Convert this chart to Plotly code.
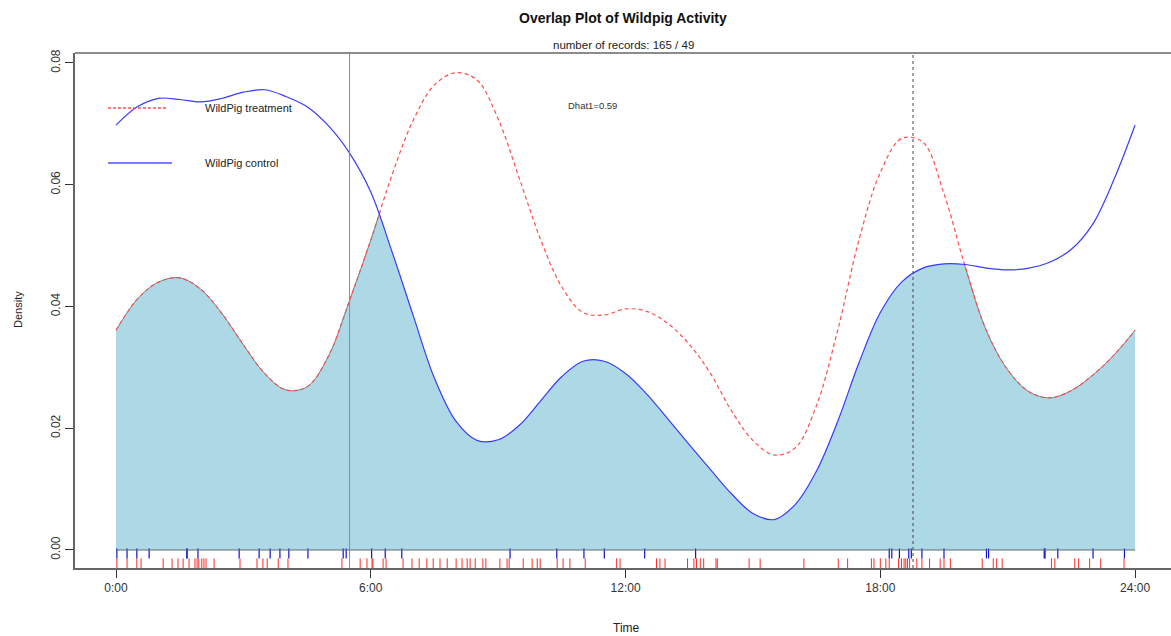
import plotly.graph_objects as go

# ---- data ----
hours = [i * 0.5 for i in range(49)]
treatment_density = [0.0361, 0.0412, 0.0440, 0.0447, 0.0428, 0.0388, 0.0337, 0.0290, 0.0263, 0.0268,
                     0.0318, 0.0410, 0.0509, 0.0616, 0.0706, 0.0764, 0.0784, 0.0772, 0.0708, 0.0610,
                     0.0510, 0.0432, 0.0390, 0.0386, 0.0396, 0.0392, 0.0372, 0.0338, 0.0290, 0.0228,
                     0.0180, 0.0156, 0.0168, 0.0238, 0.0362, 0.0510, 0.0620, 0.0676, 0.0670, 0.0585,
                     0.0465, 0.0360, 0.0296, 0.0260, 0.0250, 0.0262, 0.0287, 0.0320, 0.0361]
control_density = [0.0698, 0.0728, 0.0742, 0.0740, 0.0736, 0.0742, 0.0752, 0.0756, 0.0745, 0.0728,
                   0.0697, 0.0652, 0.0588, 0.0490, 0.0385, 0.0282, 0.0212, 0.0180, 0.0181, 0.0205,
                   0.0245, 0.0285, 0.0310, 0.0310, 0.0290, 0.0256, 0.0215, 0.0173, 0.0132, 0.0092,
                   0.0060, 0.0050, 0.0075, 0.0130, 0.0212, 0.0308, 0.0390, 0.0440, 0.0463, 0.0470,
                   0.0469, 0.0463, 0.0460, 0.0463, 0.0473, 0.0494, 0.0535, 0.0608, 0.0698]

control_times = [0.02, 0.26, 0.49, 0.78, 1.67, 1.67, 1.93, 2.90, 3.37, 3.63, 3.86, 4.07, 4.52, 5.35, 5.42,
                 6.02, 6.34, 6.73, 9.28, 10.38, 11.02, 11.50, 12.45, 13.65, 18.21, 18.27, 18.45, 18.67,
                 18.73, 18.98, 19.50, 20.50, 20.55, 21.86, 21.88, 22.18, 23.01, 23.75]
treatment_times = [0.02, 0.26, 0.49, 0.59, 1.11, 1.32, 1.46, 1.58, 1.72, 1.86, 1.91, 1.95, 2.02, 2.07, 2.12,
                   2.31, 2.92, 3.32, 3.46, 3.56, 3.82, 4.05, 5.32, 5.75, 5.91, 6.03, 6.05, 6.29, 6.36, 6.76,
                   6.97, 7.14, 7.32, 7.47, 7.63, 7.80, 8.01, 8.15, 8.27, 8.34, 8.46, 8.64, 8.71, 9.04, 9.21,
                   9.26, 9.59, 9.80, 9.92, 9.99, 10.39, 10.53, 10.69, 11.05, 11.79, 11.87, 12.73, 12.81,
                   12.93, 13.46, 13.61, 13.67, 13.76, 13.84, 14.13, 14.16, 14.91, 15.17, 16.20, 17.01,
                   17.23, 17.79, 17.85, 18.00, 18.13, 18.21, 18.43, 18.50, 18.56, 18.60, 18.64, 18.69,
                   18.86, 18.98, 19.16, 19.41, 19.50, 19.65, 20.40, 20.66, 20.74, 20.87, 22.03, 22.11,
                   22.58, 22.67, 22.93, 23.19, 23.74]

x_tick_vals = [0, 6, 12, 18, 24]
x_tick_text = ["0:00", "6:00", "12:00", "18:00", "24:00"]
y_tick_vals = [0.00, 0.02, 0.04, 0.06, 0.08]
y_tick_text = ["0.00", "0.02", "0.04", "0.06", "0.08"]
sunrise, sunset = 5.5, 18.77
n_treatment, n_control = 165, 49
dhat = 0.59

Y_MIN, Y_MAX = -0.00296, 0.08164
FONT = "Liberation Sans, Arial, sans-serif"
fig = go.Figure()

# overlap area: fill under treatment, then blank out everything above control
fig.add_trace(go.Scatter(x=hours, y=treatment_density, mode="lines",
                         line=dict(color="#6f8590", width=1, shape="spline"),
                         fill="tozeroy", fillcolor="#add8e6", hoverinfo="skip", showlegend=False))
fig.add_trace(go.Scatter(x=hours, y=control_density, mode="lines",
                         line=dict(color="rgba(0,0,0,0)", width=0, shape="spline"),
                         hoverinfo="skip", showlegend=False))
fig.add_trace(go.Scatter(x=hours, y=[Y_MAX] * len(hours), mode="lines",
                         line=dict(color="rgba(0,0,0,0)", width=0), fill="tonexty", fillcolor="white",
                         hoverinfo="skip", showlegend=False))

fig.add_trace(go.Scatter(x=hours, y=treatment_density, mode="lines",
                         line=dict(color="#ff4d4d", width=1.2, dash="4px,3px", shape="spline"), showlegend=False))
fig.add_trace(go.Scatter(x=hours, y=control_density, mode="lines",
                         line=dict(color="#3a3aff", width=1.2, shape="spline"), showlegend=False))

# rugs
fig.add_trace(go.Scatter(x=control_times, y=[-0.00058] * len(control_times), mode="markers",
                         marker=dict(symbol="line-ns", size=7, line=dict(color="#1010d0", width=1.2)),
                         showlegend=False))
fig.add_trace(go.Scatter(x=treatment_times, y=[-0.0023] * len(treatment_times), mode="markers",
                         marker=dict(symbol="line-ns", size=8, line=dict(color="#ff2a2a", width=1)),
                         showlegend=False))

shapes = [
    dict(type="line", xref="x", yref="paper", x0=sunrise, x1=sunrise, y0=0, y1=1, layer="above",
         line=dict(color="#8c8c8c", width=1)),
    dict(type="line", xref="x", yref="paper", x0=sunset, x1=sunset, y0=0, y1=1, layer="above",
         line=dict(color="#444444", width=1, dash="dot")),
    dict(type="line", xref="x", yref="y", x0=0, x1=24, y0=0, y1=0, layer="above",
         line=dict(color="#5f6f78", width=1.2)),
    dict(type="line", xref="paper", yref="paper", x0=0, x1=1, y0=1, y1=1,
         line=dict(color="#666666", width=1.5)),
    # legend samples
    dict(type="line", xref="paper", yref="paper", x0=0.0301, x1=0.0849, y0=0.8932, y1=0.8932,
         line=dict(color="#ff4d4d", width=1.3, dash="3px,2px")),
    dict(type="line", xref="paper", yref="paper", x0=0.0301, x1=0.0885, y0=0.7864, y1=0.7864,
         line=dict(color="#5050ff", width=1.5)),
]

annotations = [
    dict(text="<b>Overlap Plot of Wildpig Activity</b>", xref="paper", yref="paper", x=0.4999, y=1.068,
         showarrow=False, font=dict(size=14, color="#111", family=FONT), xanchor="center", yanchor="middle"),
    dict(text=f"number of records: {n_treatment} / {n_control}", xref="paper", yref="paper", x=0.5, y=1.0155,
         showarrow=False, font=dict(size=11.5, color="#222", family=FONT), xanchor="center", yanchor="middle"),
    dict(text="WildPig treatment", xref="paper", yref="paper", x=0.1168, y=0.8932, showarrow=False,
         font=dict(size=11, color="#222", family=FONT), xanchor="left", yanchor="middle"),
    dict(text="WildPig control", xref="paper", yref="paper", x=0.1168, y=0.7864, showarrow=False,
         font=dict(size=11, color="#222", family=FONT), xanchor="left", yanchor="middle"),
    dict(text=f"Dhat1={dhat}", xref="paper", yref="paper", x=0.4726, y=0.899, showarrow=False,
         font=dict(size=9.5, color="#333", family=FONT), xanchor="center", yanchor="middle"),
    dict(text="Density", xref="paper", yref="paper", x=-0.052, y=0.501, showarrow=False, textangle=-90,
         font=dict(size=11, color="#222", family=FONT), xanchor="center", yanchor="middle"),
    dict(text="Time", xref="paper", yref="paper", x=0.503, y=-0.1165, showarrow=False,
         font=dict(size=12, color="#222", family=FONT), xanchor="center", yanchor="middle"),
]

fig.update_layout(
    width=1171, height=636,
    margin=dict(l=75, r=0, t=53, b=68),
    paper_bgcolor="white", plot_bgcolor="white",
    shapes=shapes, annotations=annotations,
    xaxis=dict(range=[-0.966, 24.846], tickvals=x_tick_vals, ticktext=x_tick_text,
               showgrid=False, zeroline=False, showline=True, linecolor="#666666", linewidth=1.5,
               ticks="outside", ticklen=8, tickcolor="#333", tickwidth=1,
               tickfont=dict(size=12, color="#333", family=FONT)),
    yaxis=dict(range=[Y_MIN, Y_MAX], tickvals=y_tick_vals, ticktext=y_tick_text, tickangle=-90,
               showgrid=False, zeroline=False, showline=True, linecolor="#666666", linewidth=1.5,
               ticks="outside", ticklen=8, tickcolor="#333", tickwidth=1,
               tickfont=dict(size=12, color="#333", family=FONT)),
)

fig.write_html("out.html")
